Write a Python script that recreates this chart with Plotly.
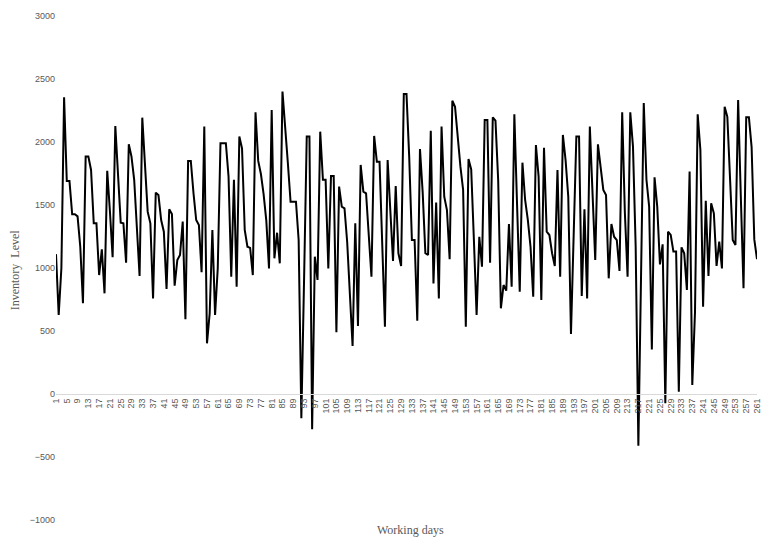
import plotly.graph_objects as go

days = list(range(1, 262))
inventory = [
    1110, 627, 1000, 2355, 1690, 1690, 1426, 1426, 1410, 1169,   # 1-10
    720, 1884, 1884, 1778, 1355, 1355, 944, 1148, 799, 1772,     # 11-20
    1450, 1085, 2127, 1753, 1360, 1355, 1042, 1982, 1884, 1700,  # 21-30
    1302, 937, 2193, 1804, 1447, 1355, 759, 1598, 1579, 1381,    # 31-40
    1288, 833, 1466, 1429, 860, 1064, 1103, 1368, 593, 1849,     # 41-50
    1849, 1593, 1381, 1341, 966, 2122, 402, 640, 1302, 627,      # 51-60
    1000, 1990, 1990, 1990, 1725, 931, 1700, 852, 2043, 1950,    # 61-70
    1302, 1169, 1160, 944, 2236, 1850, 1746, 1587, 1376, 997,    # 71-80
    2254, 1077, 1280, 1037, 2400, 2148, 1831, 1526, 1526, 1526,  # 81-90
    1222, -193, 900, 2043, 2043, -280, 1090, 905, 2082, 1700,    # 91-100
    1700, 997, 1730, 1730, 490, 1646, 1487, 1474, 1206, 799,     # 101-110
    381, 1355, 540, 1818, 1606, 1593, 1275, 931, 2048, 1844,     # 111-120
    1844, 1222, 534, 1857, 1487, 1056, 1651, 1117, 1016, 2381,   # 121-130
    2381, 1884, 1222, 1222, 582, 1944, 1600, 1117, 1103, 2090,   # 131-140
    878, 1519, 759, 2122, 1566, 1460, 1069, 2328, 2280, 2016,    # 141-150
    1804, 1620, 534, 1865, 1783, 1222, 627, 1248, 1010, 2175,    # 151-160
    2175, 1042, 2196, 2170, 1700, 680, 865, 820, 1349, 852,      # 161-170
    2220, 1508, 812, 1836, 1540, 1381, 1169, 772, 1976, 1725,    # 171-180
    746, 1955, 1288, 1262, 1117, 1016, 1778, 931, 2056, 1857,    # 181-190
    1566, 476, 1300, 2043, 2043, 778, 1466, 759, 2122, 1620,     # 191-200
    1064, 1982, 1778, 1620, 1579, 918, 1349, 1248, 1222, 976,    # 201-210
    2236, 1434, 931, 2236, 1963, 1169, -410, 1000, 2310, 1700,   # 211-220
    1487, 354, 1720, 1487, 1029, 1188, -74, 1288, 1262, 1130,    # 221-230
    1130, 18, 1164, 1117, 825, 1765, 71, 650, 2220, 1937,        # 231-240
    693, 1534, 937, 1513, 1434, 1016, 1209, 997, 2280, 2200,     # 241-250
    1700, 1222, 1182, 2333, 1566, 839, 2196, 2196, 1960, 1227,   # 251-260
    1070,                                                         # 261
]
x_tick_days = days[::4]
x_tick_labels = [str(d) for d in x_tick_days]
y_ticks = [-1000, -500, 0, 500, 1000, 1500, 2000, 2500, 3000]

fig = go.Figure()
fig.add_trace(go.Scatter(
    x=days, y=inventory, mode="lines",
    line=dict(color="black", width=2),
    hoverinfo="skip", showlegend=False,
))

label_font = dict(family="Liberation Sans, Arial, sans-serif", size=9, color="#595959")

fig.update_layout(
    width=764, height=542,
    margin=dict(l=56, r=2, t=16, b=22),
    plot_bgcolor="white", paper_bgcolor="white",
    xaxis=dict(
        range=[1, 261],
        tickmode="array", tickvals=x_tick_days, ticktext=x_tick_labels,
        tickangle=-90, tickfont=label_font,
        showgrid=False, zeroline=False,
        showline=True, linecolor="#d9d9d9", linewidth=1,
        ticks="", anchor="free", position=0.25,
        ticklabeloverflow="allow",
    ),
    yaxis=dict(
        range=[-1000, 3000],
        tickmode="array", tickvals=y_ticks,
        tickfont=label_font,
        showgrid=False, zeroline=False, showline=False, ticks="",
    ),
    annotations=[
        dict(text="Inventory  Level", x=(15 - 56) / 706.0, y=(520 - 270) / 504.0,
             xref="paper", yref="paper",
             xanchor="center", yanchor="middle", showarrow=False, textangle=-90,
             font=dict(family="Liberation Serif, Times New Roman, serif", size=12, color="#595959")),
        dict(text="Working days", x=(413 - 56) / 706.0, y=(542 - 22 - 530) / 504.0,
             xref="paper", yref="paper", xanchor="center", yanchor="middle",
             showarrow=False,
             font=dict(family="Liberation Serif, Times New Roman, serif", size=12, color="#595959")),
    ],
)

fig.write_html("out.html")
